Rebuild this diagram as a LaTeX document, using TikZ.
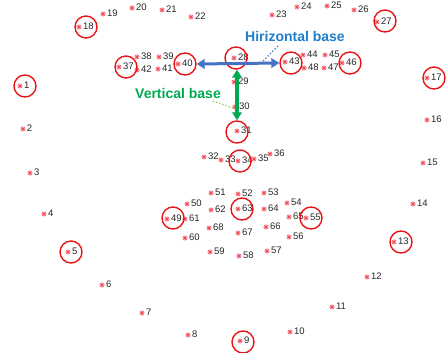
\documentclass[tikz,border=0pt]{standalone}
\usepackage{fontspec}
\setmainfont{Liberation Sans}
\usetikzlibrary{arrows.meta}
\definecolor{mkred}{RGB}{245,70,85}
\definecolor{ringred}{RGB}{235,20,20}
\definecolor{hblue}{RGB}{68,114,196}
\definecolor{htext}{RGB}{30,125,205}
\definecolor{vgreen}{RGB}{0,170,80}
\definecolor{vdot}{RGB}{146,208,80}
\tikzset{
  lbl/.style={anchor=west,inner sep=0pt,font=\fontsize{9.5}{10}\selectfont,text=black!85},
  ring/.style={circle,draw=ringred,line width=1.4pt,minimum size=22pt,inner sep=0pt},
  mk/.style={draw=mkred,line width=0.6pt},
  basearrow/.style={{Triangle[length=8pt,width=9.5pt]}-{Triangle[length=8pt,width=9.5pt]}},
  basetext/.style={font=\fontsize{14}{16}\selectfont\bfseries,inner sep=0pt},
  leader/.style={dotted,line width=1.3pt}
}
\begin{document}
\begin{tikzpicture}[x=1pt,y=-1pt]
\useasboundingbox (0,0) rectangle (447,353);
\foreach \n/\px/\py in {1/20/86,2/23/129,3/30/173,4/44/214,5/68/252,6/102/285,7/142/313,8/188/335,9/240/341,10/290/332,11/332/307,12/367/277,13/394/242,14/413/204,15/423/163,16/427/120,17/427/78,18/79/27,19/103/14,20/132/8,21/162/10,22/191/17,23/272/15,24/297/7,25/327/6,26/354/10,27/377/22,28/234/58,29/234/82,30/235/107,31/237/131,32/204/157,33/221/160,34/238/161,35/254/159,36/270/154,37/119/67,38/137/57,39/159/57,40/178/64,41/158/69,42/137/70,43/285/62,44/303/55,45/325/55,46/342/63,47/324/68,48/304/68,49/167/219,50/187/204,51/211/193,52/238/194,53/264/193,54/287/203,55/306/218,56/289/237,57/267/251,58/239/256,59/210/252,60/185/238,61/185/219,62/211/210,63/238/209,64/264/209,65/289/217,66/266/227,67/238/233,68/209/228}{
  \coordinate (p\n) at (\px,\py);
  \draw[mk] ([xshift=-2.6pt]p\n) -- ([xshift=2.6pt]p\n)
            ([yshift=-2.6pt]p\n) -- ([yshift=2.6pt]p\n)
            ([shift={(-1.9pt,-1.9pt)}]p\n) -- ([shift={(1.9pt,1.9pt)}]p\n)
            ([shift={(-1.9pt,1.9pt)}]p\n) -- ([shift={(1.9pt,-1.9pt)}]p\n);
  \node[lbl] (l\n) at ([xshift=3.8pt,yshift=0.5pt]p\n) {\n};
}
\foreach \n/\cx/\cy in {1/25/86,5/71/252,9/243/342,13/401/242,17/434/78,18/86/27,27/385/21,28/236/58,31/237/132,34/240/161,37/126/67,40/185/64,43/291/63,46/350/63,49/173/218,55/311/218,63/242/209}{
  \node[ring] (c\n) at (\cx,\cy) {};
}
\draw[basearrow,hblue,line width=3pt] (c40.east) -- (c43.west);
\draw[basearrow,vgreen,line width=3.5pt] ([xshift=1pt]c28.south) -- ([xshift=1pt]c28.south |- c31.north);
\node[basetext,text=htext] (htxt) at (295,36) {Hirizontal base};
\node[basetext,text=vgreen] (vtxt) at (178,93) {Vertical base};
\coordinate (hdot) at (263,61);
\coordinate (hdotend) at (278,46);
\coordinate (vdotstart) at (213,101);
\coordinate (vdotend) at (233,108);
\draw[leader,hblue] (hdot) -- (hdotend);
\draw[leader,vdot] (vdotstart) -- (vdotend);
\end{tikzpicture}
\end{document}
